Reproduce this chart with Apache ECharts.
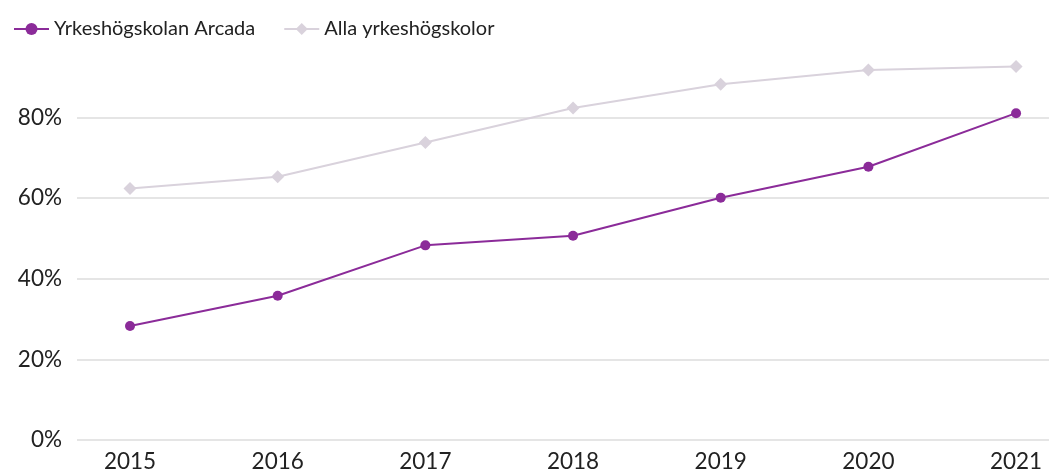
<!DOCTYPE html>
<html>
<head>
<meta charset="utf-8">
<script src="https://cdn.jsdelivr.net/npm/echarts@6/dist/echarts.min.js"></script>
<style>
  html, body { margin: 0; padding: 0; background: #fff; }
  #chart { width: 1049px; height: 473px; }
</style>
</head>
<body>
<div id="chart"></div>
<script>
// 数据
const years = [2015, 2016, 2017, 2018, 2019, 2020, 2021];
const arcada = [28.3, 35.8, 48.3, 50.7, 60.1, 67.8, 81.1];
const alla = [62.4, 65.3, 73.8, 82.4, 88.3, 91.8, 92.7];
const yTicks = [0, 20, 40, 60, 80, 100];

const font = 'Lato, "Open Sans", sans-serif';
const purple = '#8b2b99';
const lilac = '#d9d2dc';

const chart = echarts.init(document.getElementById('chart'));

chart.setOption({
  animation: false,
  textStyle: { fontFamily: font },
  legend: {
    left: 8,
    top: 14,
    itemWidth: 35,
    itemHeight: 15,
    itemGap: 28,
    textStyle: { fontSize: 20, color: '#222', fontFamily: font },
    data: ['Yrkeshögskolan Arcada', 'Alla yrkeshögskolor']
  },
  grid: { left: 77, right: 0, top: 37, bottom: 30, containLabel: false },
  xAxis: {
    type: 'value',
    min: 2014.641,
    max: 2021.223,
    splitLine: { show: false },
    axisLine: { show: false },
    axisTick: { show: false },
    axisLabel: {
      customValues: years,
      formatter: v => String(v),
      fontSize: 22.5,
      color: '#222',
      margin: 10
    }
  },
  yAxis: {
    type: 'value',
    min: 0,
    max: 100,
    interval: 20,
    axisLine: { show: false },
    axisTick: { show: false },
    axisLabel: {
      showMaxLabel: false,
      formatter: '{value}%',
      fontSize: 22.5,
      color: '#222',
      margin: 15
    },
    splitLine: {
      lineStyle: {
        color: yTicks.map(t => (t === 100 ? 'rgba(0,0,0,0)' : '#dcdcdc')),
        width: 1.5
      }
    }
  },
  series: [
    {
      name: 'Yrkeshögskolan Arcada',
      type: 'line',
      data: years.map((y, i) => [y, arcada[i]]),
      symbol: 'circle',
      symbolSize: 10,
      itemStyle: { color: purple },
      lineStyle: { color: purple, width: 2 },
      z: 3
    },
    {
      name: 'Alla yrkeshögskolor',
      type: 'line',
      data: years.map((y, i) => [y, alla[i]]),
      symbol: 'diamond',
      symbolSize: 13,
      itemStyle: { color: lilac },
      lineStyle: { color: lilac, width: 2 },
      z: 2
    }
  ]
});

window.addEventListener('resize', () => chart.resize());
</script>
</body>
</html>
